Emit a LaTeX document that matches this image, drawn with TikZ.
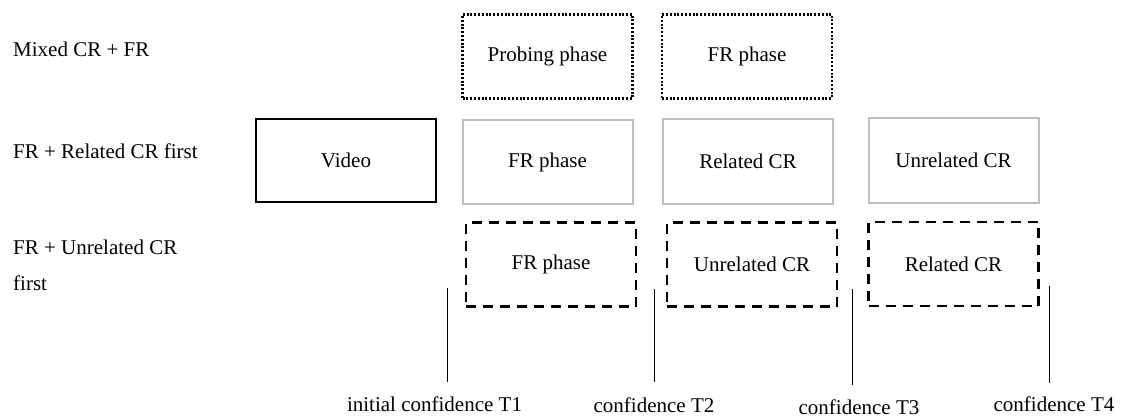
\documentclass[tikz,border=0pt]{standalone}
\usepackage{fontspec}
\setmainfont{Liberation Serif}
\usetikzlibrary{
  positioning % 节点相对定位
}
\tikzset{
  phase box/.style={
    draw,
    inner sep=0pt,
    minimum width=170pt,
    minimum height=84pt,
    font=\fontsize{21}{25}\selectfont
  },
  video box/.style={
    phase box,
    line width=2pt,
    minimum width=180pt,
    minimum height=83pt
  },
  mixed box/.style={
    phase box,
    line width=2.4pt,
    dash pattern=on 2pt off 1.8pt
  },
  related box/.style={
    phase box,
    draw=black!25,
    line width=2pt
  },
  unrelated box/.style={
    phase box,
    line width=2.2pt,
    dash pattern=on 10pt off 7pt
  },
  row label/.style={
    anchor=base west,
    inner sep=0pt,
    font=\fontsize{21}{25}\selectfont
  },
  time label/.style={
    anchor=base,
    inner sep=0pt,
    font=\fontsize{21}{25}\selectfont
  },
  time line/.style={
    line width=1pt
  }
}

\begin{document}
\begin{tikzpicture}[x=1pt, y=-1pt]
    \useasboundingbox (0,0) rectangle (1127,417);

    % 1. 左侧的三种条件
    \node[row label] (mixlab) at (13,57) {Mixed CR + FR};
    \node[row label] (rellab) at (13,159) {FR + Related CR first};
    \node[row label] (unrlab) at (13,254) {FR + Unrelated CR};
    \node[row label] (unrlab2) at (13,290) {first};

    % 2. 视频
    \node[video box] (video) at (346,160.5) {Video};

    % 3. Mixed CR + FR (点线框)
    \node[mixed box] (mixprobe) at (547.5,56.5) {Probing phase};
    \node[mixed box] (mixfr) at (747,56.5) {FR phase};

    % 4. FR + Related CR first (灰框)
    \node[related box] (relfr) at (547.5,162) {FR phase};
    \node[related box] (relrel) at (748,161.5) {Related CR};
    \node[related box] (relunr) at (953.5,160.5) {Unrelated CR};

    % 5. FR + Unrelated CR first (虚线框)
    \node[unrelated box] (unrfr) at (551,264.5) {FR phase};
    \node[unrelated box] (unrunr) at (752,264.5) {Unrelated CR};
    \node[unrelated box] (unrrel) at (953.5,264) {Related CR};

    % 6. 信心测量时间点
    \coordinate (t1top) at (447,288);
    \coordinate (t1bot) at (447,382);
    \coordinate (t2top) at (654,289);
    \coordinate (t2bot) at (654,382);
    \coordinate (t3top) at (852,289);
    \coordinate (t3bot) at (852,385);
    \coordinate (t4top) at (1049,286);
    \coordinate (t4bot) at (1049,383);
    \draw[time line] (t1top) -- (t1bot);
    \draw[time line] (t2top) -- (t2bot);
    \draw[time line] (t3top) -- (t3bot);
    \draw[time line] (t4top) -- (t4bot);
    \node[time label] (t1) at (434.5,411) {initial confidence T1};
    \node[time label] (t2) at (654,412) {confidence T2};
    \node[time label] (t3) at (859,414) {confidence T3};
    \node[time label] (t4) at (1054,411) {confidence T4};

  \end{tikzpicture}
\end{document}
